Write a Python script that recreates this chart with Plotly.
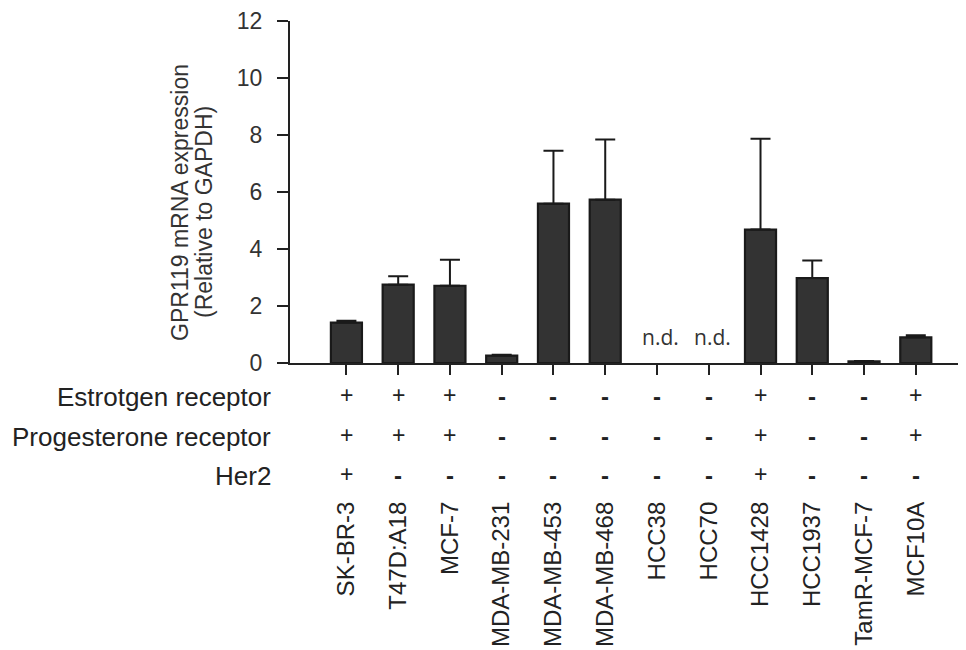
import plotly.graph_objects as go

cell_lines = ["SK-BR-3", "T47D:A18", "MCF-7", "MDA-MB-231", "MDA-MB-453", "MDA-MB-468",
              "HCC38", "HCC70", "HCC1428", "HCC1937", "TamR-MCF-7", "MCF10A"]
expression = [1.42, 2.75, 2.71, 0.26, 5.59, 5.73, None, None, 4.68, 2.98, 0.06, 0.90]
error_upper = [0.06, 0.29, 0.91, 0.03, 1.86, 2.11, 0, 0, 3.19, 0.62, 0.01, 0.07]
not_detected = ["HCC38", "HCC70"]
estrogen = ["+", "+", "+", "-", "-", "-", "-", "-", "+", "-", "-", "+"]
progesterone = ["+", "+", "+", "-", "-", "-", "-", "-", "+", "-", "-", "+"]
her2 = ["+", "-", "-", "-", "-", "-", "-", "-", "+", "-", "-", "-"]
row_labels = ["Estrotgen receptor", "Progesterone receptor", "Her2"]
y_title_lines = ["GPR119 mRNA expression", "(Relative to GAPDH)"]
y_ticks = [0, 2, 4, 6, 8, 10, 12]

FONT = "Liberation Sans, Arial, sans-serif"
OFF = 8  # page body margin
W, H = 958, 642
ML, MR, MT, MB = 282, 0, 13, 287
plot_h = H - MT - MB
plot_w = W - ML - MR

def paper_y(py):
    return (H - MB - (py - OFF)) / plot_h

def paper_x(px):
    return (px - OFF - ML) / plot_w

x_idx = list(range(len(cell_lines)))

fig = go.Figure()
fig.add_trace(go.Bar(
    x=x_idx, y=expression, width=0.6,
    marker=dict(color="#333333", line=dict(color="#1a1a1a", width=2.2)),
    error_y=dict(type="data", symmetric=False, array=error_upper,
                 arrayminus=[0] * len(error_upper),
                 color="#1a1a1a", thickness=2, width=10),
    showlegend=False,
))

ann = []
for name in not_detected:
    i = cell_lines.index(name)
    ann.append(dict(x=i, y=0.9, xref="x", yref="y", text="n.d.", showarrow=False,
                    xshift=4,
                    font=dict(family="Open Sans, Noto Sans, sans-serif", size=21,
                              color="#333333")))

rows = [estrogen, progesterone, her2]
row_py = [397, 437, 476]
for lab, vals, py in zip(row_labels, rows, row_py):
    ann.append(dict(x=paper_x(273), xref="paper", y=paper_y(py), yref="paper", text=lab,
                    showarrow=False, xanchor="right", yanchor="middle",
                    font=dict(family=FONT, size=26, color="#222222")))
    for i, v in enumerate(vals):
        if v == "+":
            ann.append(dict(x=i, xref="x", y=paper_y(py - 2), yref="paper",
                            text="+", showarrow=False, yanchor="middle",
                            font=dict(family=FONT, size=23, color="#222222")))
        else:
            ann.append(dict(x=i, xref="x", y=paper_y(py - 1), yref="paper",
                            text="<b>-</b>", showarrow=False, yanchor="middle",
                            font=dict(family=FONT, size=24, color="#222222")))

# y-axis title as two rotated lines
for txt, cx, cy in zip(y_title_lines, [180, 204], [203, 212]):
    ann.append(dict(x=paper_x(cx), xref="paper", y=paper_y(cy), yref="paper",
                    text=txt, textangle=-90, showarrow=False,
                    xanchor="center", yanchor="middle",
                    font=dict(family=FONT, size=23, color="#333333")))

fig.update_layout(
    width=W, height=H,
    margin=dict(l=ML, r=MR, t=MT, b=MB),
    plot_bgcolor="white", paper_bgcolor="white",
    font=dict(family=FONT, size=18, color="#333333"),
    annotations=ann,
    xaxis=dict(
        range=[-1.09, 11.97], tickmode="array", tickvals=x_idx, ticktext=cell_lines,
        tickangle=-90, ticks="outside", ticklen=10, tickwidth=2, tickcolor="#222222",
        showline=True, linecolor="#222222", linewidth=2.2, showgrid=False,
        zeroline=False, ticklabelstandoff=117,
        tickfont=dict(family=FONT, size=24, color="#222222"),
    ),
    yaxis=dict(
        range=[0, 12], tickvals=y_ticks, ticks="outside", ticklen=11, tickwidth=2,
        tickcolor="#222222", showline=True, linecolor="#222222", linewidth=2.2,
        showgrid=False, zeroline=False, ticklabelstandoff=10,
        tickfont=dict(family=FONT, size=23, color="#333333"),
    ),
)

fig.write_html("out.html")
